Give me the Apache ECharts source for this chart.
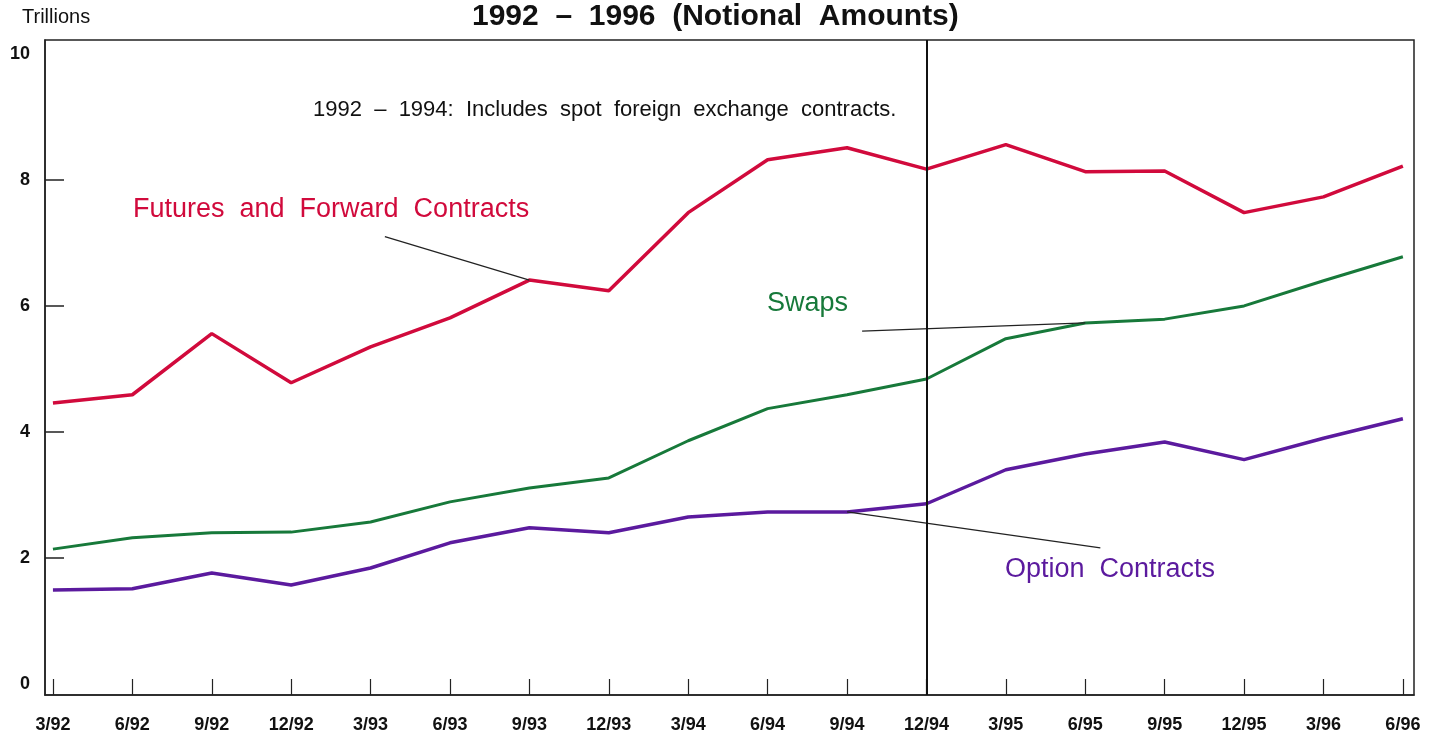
<!DOCTYPE html>
<html>
<head>
<meta charset="utf-8">
<script src="https://cdn.jsdelivr.net/npm/echarts@6/dist/echarts.min.js"></script>
<style>html,body{margin:0;padding:0;background:#fff;}#chart{width:1446px;height:738px;}</style>
</head>
<body>
<div id="chart"></div>
<script>
const categories = ['3/92','6/92','9/92','12/92','3/93','6/93','9/93','12/93','3/94','6/94','9/94','12/94','3/95','6/95','9/95','12/95','3/96','6/96'];
const futures = [4.46,4.59,5.56,4.78,5.35,5.81,6.41,6.24,7.48,8.32,8.51,8.17,8.56,8.13,8.14,7.48,7.73,8.22];
const swaps   = [2.14,2.32,2.40,2.41,2.57,2.89,3.11,3.27,3.86,4.37,4.59,4.84,5.48,5.73,5.79,6.00,6.40,6.78];
const options = [1.49,1.51,1.76,1.57,1.84,2.24,2.48,2.40,2.65,2.73,2.73,2.86,3.40,3.65,3.84,3.56,3.90,4.21];
const yTickLabels = [0,2,4,6,8,10];
const yTickMarks = [2,4,6,8];

const FONT = 'Liberation Sans, Arial, sans-serif';
const RED = '#d10a3c', GREEN = '#17793a', PURPLE = '#5b1a9e';
const pairs = arr => arr.map((v,i)=>[i,v]);
const idx = categories.map((c,i)=>i);

const chart = echarts.init(document.getElementById('chart'));
chart.setOption({
  animation:false,
  backgroundColor:'#fff',
  grid:{left:45,right:32,top:40,bottom:43,show:true,borderColor:'#222',borderWidth:1.5,containLabel:false},
  xAxis:{
    type:'value', min:-0.1, max:17.14,
    axisLine:{show:true,onZero:false,lineStyle:{color:'#222',width:1.5}},
    axisTick:{show:true,inside:true,length:16,customValues:idx,lineStyle:{color:'#222',width:1.2}},
    axisLabel:{customValues:idx,formatter:v=>categories[Math.round(v)],color:'#111',fontFamily:FONT,fontWeight:'bold',fontSize:18,margin:21},
    splitLine:{show:false}
  },
  yAxis:{
    type:'value', min:-0.175, max:10.22,
    axisLine:{show:true,onZero:false,lineStyle:{color:'#222',width:1.5}},
    axisTick:{show:true,inside:true,length:19,customValues:yTickMarks,lineStyle:{color:'#222',width:1.5}},
    axisLabel:{customValues:yTickLabels,color:'#111',fontFamily:FONT,fontWeight:'bold',fontSize:18,margin:15},
    splitLine:{show:false}
  },
  series:[
    {type:'line',name:'Futures and Forward Contracts',data:pairs(futures),symbol:'none',lineStyle:{color:RED,width:3.5},
     markLine:{silent:true,symbol:'none',label:{show:false},lineStyle:{color:'#222',width:1.2,type:'solid'},
       data:[[{coord:[4.18,7.10]},{coord:[6,futures[6]]}]]}},
    {type:'line',name:'Swaps',data:pairs(swaps),symbol:'none',lineStyle:{color:GREEN,width:3},
     markLine:{silent:true,symbol:'none',label:{show:false},lineStyle:{color:'#222',width:1.2,type:'solid'},
       data:[[{coord:[10.19,5.60]},{coord:[13,swaps[13]]}]]}},
    {type:'line',name:'Option Contracts',data:pairs(options),symbol:'none',lineStyle:{color:PURPLE,width:3.5},
     markLine:{silent:true,symbol:'none',label:{show:false},lineStyle:{color:'#222',width:1.2,type:'solid'},
       data:[[{coord:[10,options[10]]},{coord:[13.19,2.16]}],{xAxis:11,lineStyle:{color:'#111',width:2}}]}}
  ],
  graphic:[
    {type:'text',left:22,top:7,style:{text:'Trillions',font:'20px '+FONT,fill:'#111'}},
    {type:'text',left:472,top:2,style:{text:'1992  –  1996  (Notional  Amounts)',font:'bold 30px '+FONT,fill:'#111'}},
    {type:'text',left:313,top:99,style:{text:'1992  –  1994:  Includes  spot  foreign  exchange  contracts.',font:'22px '+FONT,fill:'#111'}},
    {type:'text',left:133,top:196,style:{text:'Futures  and  Forward  Contracts',font:'27px '+FONT,fill:RED}},
    {type:'text',left:767,top:290,style:{text:'Swaps',font:'27px '+FONT,fill:GREEN}},
    {type:'text',left:1005,top:556,style:{text:'Option  Contracts',font:'27px '+FONT,fill:PURPLE}}
  ]
});
</script>
</body>
</html>
